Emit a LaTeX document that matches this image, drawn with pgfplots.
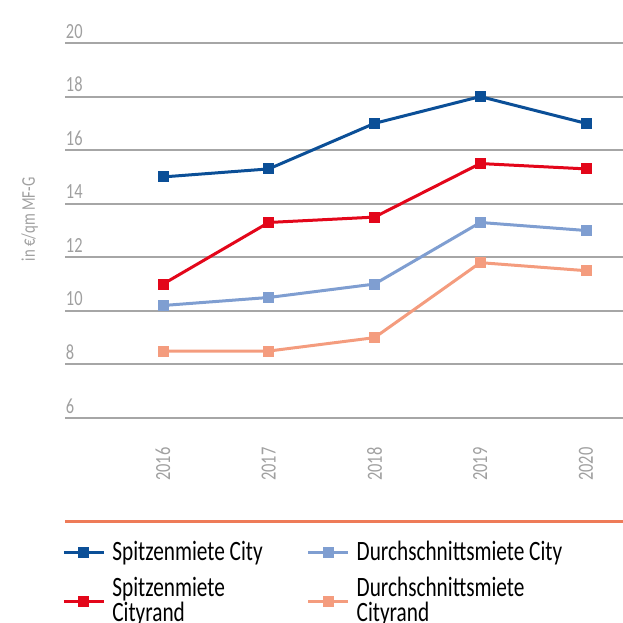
\documentclass[border=0pt]{standalone}
\usepackage{fontspec}
\setmainfont{Carlito}[FakeStretch=0.76]
\usepackage{pgfplots}
\pgfplotsset{compat=1.18}
\definecolor{cblue}{HTML}{0B4F97}
\definecolor{cred}{HTML}{E3061A}
\definecolor{clblue}{HTML}{7F9ED1}
\definecolor{csalmon}{HTML}{F49C7E}
\definecolor{corange}{HTML}{EE7B58}
\definecolor{cgrid}{HTML}{A6A6A6}
\definecolor{ctext}{HTML}{A0A0A0}
\begin{document}
\begin{tikzpicture}
\useasboundingbox (-32.5pt,-102.5pt) rectangle (279pt,209pt);
\begin{axis}[
  scale only axis,
  width=279pt, height=187.5pt,
  xmin=2015.073, xmax=2020.35,
  ymin=6, ymax=20,
  ytick={6,8,...,20},
  xtick={2016,2017,2018,2019,2020},
  /pgf/number format/1000 sep={},
  /pgf/number format/assume math mode=true,
  axis line style={draw=none},
  major tick length=0pt,
  ymajorgrids,
  grid style={cgrid, line width=1pt},
  tick label style={font=\fontsize{10.8pt}{12pt}\selectfont, text=ctext},
  yticklabel style={anchor=south west, inner sep=0pt, xshift=0.3pt, yshift=2.2pt},
  xticklabel style={rotate=90, anchor=east, inner sep=0pt},
  xticklabel shift=14.5pt,
  ylabel={in €/qm MF-G},
  ylabel style={at={(axis description cs:-0.054,0.53)}, anchor=base, inner sep=0pt, font=\fontsize{9.7pt}{11pt}\selectfont, text=ctext},
  clip=false,
  legend columns=2,
  legend cell align=left,
  legend style={draw=none, fill=none, at={(axis description cs:-0.0054,-0.327)}, anchor=north west,
    font=\fontsize{14pt}{12.5pt}\selectfont, inner sep=0pt,
    nodes={align=left, inner sep=0pt},
    row sep=7pt,
    /tikz/column 1/.style={column sep=3.5pt},
    /tikz/column 2/.style={column sep=22pt},
    /tikz/column 3/.style={column sep=3.5pt}},
  legend image code/.code={\draw[mark repeat=2,mark phase=2] plot coordinates {(0pt,0pt)(10pt,0pt)(20pt,0pt)};},
  every axis plot/.append style={line width=1.5pt, mark=square*, mark size=2pt, mark options={solid}},
]
\addplot[cblue] coordinates {(2016,15) (2017,15.3) (2018,17) (2019,18) (2020,17)};
\addlegendentry{Spitzenmiete City}
\addplot[clblue] coordinates {(2016,10.2) (2017,10.5) (2018,11) (2019,13.3) (2020,13)};
\addlegendentry{Durchschnittsmiete City}
\addplot[cred] coordinates {(2016,11) (2017,13.3) (2018,13.5) (2019,15.5) (2020,15.3)};
\addlegendentry{Spitzenmiete\\Cityrand}
\addplot[csalmon] coordinates {(2016,8.5) (2017,8.5) (2018,9) (2019,11.8) (2020,11.5)};
\addlegendentry{Durchschnittsmiete\\Cityrand}
\draw[corange, line width=1.5pt] (axis description cs:0,-0.2773) -- (axis description cs:1,-0.2773);
\end{axis}
\end{tikzpicture}
\end{document}
